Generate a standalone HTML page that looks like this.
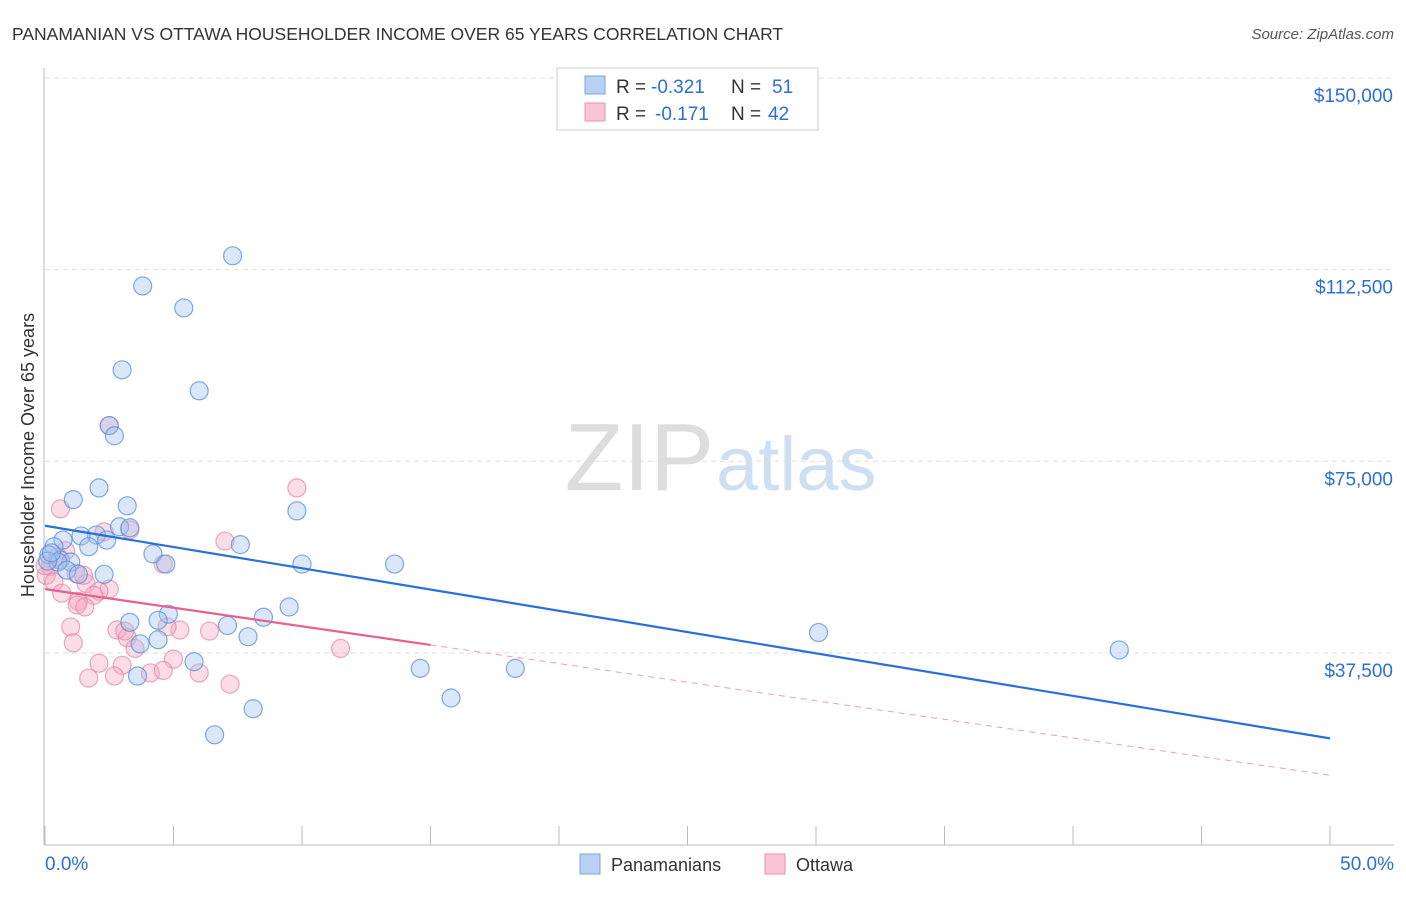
<!DOCTYPE html>
<html><head><meta charset="utf-8"><style>
body{margin:0;background:#fff;font-family:"Liberation Sans",sans-serif;}
svg text{font-family:"Liberation Sans",sans-serif;}
</style></head><body>
<svg id="chart" width="1406" height="892">
<text x="12" y="40" font-size="17.5" fill="#333">PANAMANIAN VS OTTAWA HOUSEHOLDER INCOME OVER 65 YEARS CORRELATION CHART</text>
<text x="1394" y="39" font-size="15" fill="#555" font-style="italic" text-anchor="end">Source: ZipAtlas.com</text>
<text x="714" y="490" font-size="96" fill="#ddd" text-anchor="end" font-family="Liberation Serif">ZIP</text>
<text x="716" y="490" font-size="76" fill="#cfdff3">atlas</text>
<text transform="translate(34,455) rotate(-90)" font-size="18" fill="#333" text-anchor="middle">Householder Income Over 65 years</text>
<g id="grid"></g><g id="pts"></g><g id="lines"></g>
<g>
<rect x="557" y="68" width="261" height="62" fill="#fff" stroke="#ccc"/>
<rect x="585" y="76" width="20" height="18" fill="#b7d0f3" stroke="#7aa6e0"/>
<rect x="585" y="103" width="20" height="18" fill="#f9c5d5" stroke="#e990ae"/>
<text y="93" font-size="19" fill="#333"><tspan x="616">R =</tspan><tspan x="651" fill="#2d6fd6">-0.321</tspan><tspan x="731">N =</tspan><tspan x="772" fill="#2d6fd6">51</tspan></text>
<text y="120" font-size="19" fill="#333"><tspan x="616">R =</tspan><tspan x="655" fill="#2d6fd6">-0.171</tspan><tspan x="731">N =</tspan><tspan x="768" fill="#2d6fd6">42</tspan></text>
</g>
<g>
<rect x="580" y="854" width="20" height="20" fill="#b7d0f3" stroke="#7aa6e0"/>
<text x="611" y="871" font-size="18" fill="#333">Panamanians</text>
<rect x="765" y="854" width="20" height="20" fill="#f9c5d5" stroke="#e990ae"/>
<text x="796" y="871" font-size="18" fill="#333">Ottawa</text>
</g>
</svg>
<script>
const yTicks=[37500,75000,112500,150000];
const yTickLabels=["$37,500","$75,000","$112,500","$150,000"];
const xTickLabels=["0.0%","50.0%"];
const bluePct=[7.3,3.8,5.4,3.0,6.0,2.5,2.7,2.1,1.1,3.2,9.8,2.9,3.3,2.0,1.4,0.7,2.4,1.7,7.6,0.35,4.2,0.15,0.6,1.0,4.7,10.0,13.6,0.5,0.85,1.3,2.3,9.5,8.5,4.8,3.3,4.4,7.1,30.1,7.9,3.7,4.4,5.8,14.6,18.3,3.6,41.8,15.8,8.1,6.6,0.1,0.25];
const blueVal=[115000,109100,104800,92700,88600,81800,79800,69600,67300,66100,65100,62000,61800,60400,60200,59400,59400,58100,58500,58100,56700,56500,55500,55100,54700,54700,54700,55100,53500,52700,52700,46300,44300,44900,43300,43700,42700,41300,40500,39100,39900,35600,34300,34300,32800,37900,28500,26400,21300,55300,56900];
const pinkPct=[0.6,2.5,9.8,3.3,7.0,2.3,0.8,0.2,4.6,0.05,0.35,1.2,1.6,2.5,2.1,0.65,1.9,1.3,1.25,1.55,2.8,5.25,6.4,1.0,3.2,4.75,1.1,3.5,11.5,2.1,3.0,5.0,4.1,4.6,6.0,1.7,2.7,7.2,3.1,0.0,0.5,1.5];
const pinkVal=[65500,81800,69600,61400,59200,61000,57300,54200,54700,52500,51200,52900,50900,49800,49400,49000,48600,47400,46700,46300,41800,41800,41600,42400,40300,42400,39300,38200,38200,35300,34900,36100,33400,33900,33400,32400,32800,31200,41600,54400,56100,52500];
const blueLine=[62200,20600], pinkLine=[49800,13400], pinkSolidEnd=15;
const X=p=>45+p/50*1285, Y=v=>652-(v-37500)/37500*191.7;
const NS="http://www.w3.org/2000/svg";
function mk(tag,attrs,parent){const e=document.createElementNS(NS,tag);for(const k in attrs)e.setAttribute(k,attrs[k]);document.getElementById(parent).appendChild(e);return e;}
yTicks.forEach((v,i)=>{
 const l=mk('line',{x1:45,x2:1394,y1:Y(v)+1,y2:Y(v)+1,stroke:'#ddd','stroke-dasharray':'5,4'},'grid');
 
 
 const t=mk('text',{x:1393,y:Y(v)+25,'font-size':19,fill:'#2d6fd6','text-anchor':'end'},'grid');
 t.textContent=yTickLabels[i];
 
 
});
const ax=mk('line',{x1:44,x2:44,y1:68,y2:845,stroke:'#bbb'},'grid');


const bx=mk('line',{x1:44,x2:1394,y1:845,y2:845,stroke:'#bbb'},'grid');


for(let p=0;p<=50;p+=5){const t=mk('line',{x1:X(p),x2:X(p),y1:826,y2:845,stroke:'#bbb'},'grid');
 
 }
[[0,45,'start'],[1,1394,'end']].forEach(([i,x,a])=>{const t=mk('text',{x:x,y:870,'font-size':19,fill:'#2d6fd6','text-anchor':a},'grid');t.textContent=xTickLabels[i];
 
 });
pinkPct.forEach((p,i)=>{const c=mk('circle',{cx:X(p),cy:Y(pinkVal[i]),r:9,fill:'rgba(245,170,195,0.4)',stroke:'rgba(230,130,165,0.7)','stroke-width':1.2},'pts');
 
 });
bluePct.forEach((p,i)=>{const c=mk('circle',{cx:X(p),cy:Y(blueVal[i]),r:9,fill:'rgba(160,195,240,0.4)',stroke:'rgba(90,140,215,0.75)','stroke-width':1.2},'pts');
 
 });
const pv=p=>pinkLine[0]+(pinkLine[1]-pinkLine[0])*p/50;
const b=mk('line',{x1:X(0),y1:Y(blueLine[0]),x2:X(50),y2:Y(blueLine[1]),stroke:'#2a6fd8','stroke-width':2.2},'lines');


const ps=mk('line',{x1:X(0),y1:Y(pv(0)),x2:X(pinkSolidEnd),y2:Y(pv(pinkSolidEnd)),stroke:'#e8608e','stroke-width':2.2},'lines');


const pd=mk('line',{x1:X(pinkSolidEnd),y1:Y(pv(pinkSolidEnd)),x2:X(50),y2:Y(pv(50)),stroke:'#e8a0b8','stroke-width':1,'stroke-dasharray':'6,5'},'lines');


</script>
</body></html>
